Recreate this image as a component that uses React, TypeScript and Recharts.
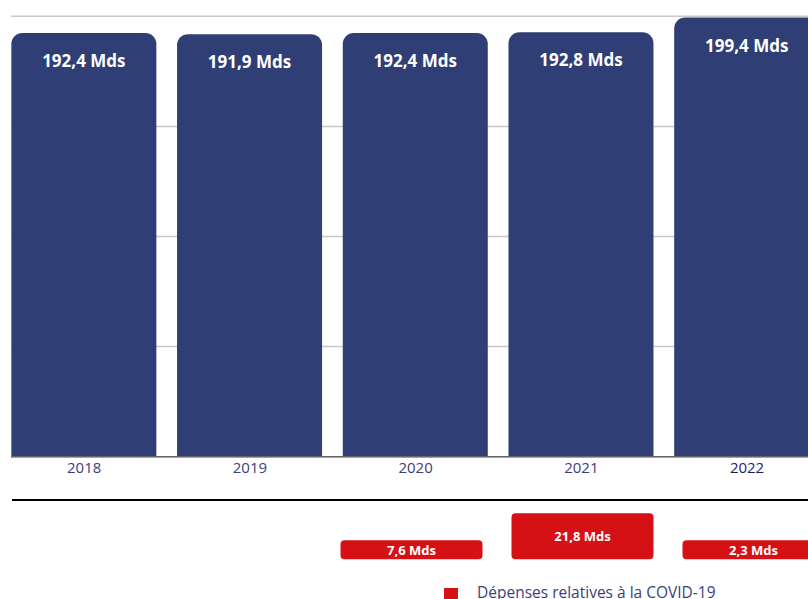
import React from 'react';
import { BarChart, Bar, XAxis, YAxis, CartesianGrid, LabelList } from 'recharts';

const years = ['2018', '2019', '2020', '2021', '2022'];
const totalValues = [192.4, 191.9, 192.4, 192.8, 199.4];
const covidValues: (number | null)[] = [null, null, 7.6, 21.8, 2.3];
const yTicks = [0, 50, 100, 150, 200];

const BLUE = '#2f3e74';
const RED = '#d51116';
const FONT = '"Open Sans", "DejaVu Sans", sans-serif';

const mainData = years.map((y, i) => ({ year: y, total: totalValues[i] }));
const covidData = years.map((y, i) => ({ year: y, covid: covidValues[i] }));

const fmt = (v: number) => `${String(v).replace('.', ',')} Mds`;

const TopLabel = (props: any) => {
  const { x, y, width, value } = props;
  if (value == null) return null;
  return (
    <text
      x={Number(x) + Number(width) / 2}
      y={Number(y) + 27.5}
      textAnchor="middle"
      dominantBaseline="central"
      fill="#ffffff"
      fontSize={17}
      fontWeight={700}
      fontFamily={FONT}
    >
      {fmt(value)}
    </text>
  );
};

const CovidLabel = (props: any) => {
  const { x, y, width, height, value } = props;
  if (value == null) return null;
  return (
    <text
      x={Number(x) + Number(width) / 2}
      y={Number(y) + Number(height) / 2}
      textAnchor="middle"
      dominantBaseline="central"
      fill="#ffffff"
      fontSize={13}
      fontWeight={700}
      fontFamily={FONT}
    >
      {fmt(value)}
    </text>
  );
};

const YearTick = (props: any) => {
  const { x, y, payload } = props;
  const last = payload.value === '2022';
  return (
    <text
      x={x}
      y={y}
      dy="0.71em"
      textAnchor="middle"
      fill={last ? '#1f1c62' : '#3c4079'}
      fontSize={15}
      fontWeight={last ? 500 : 400}
      fontFamily={FONT}
    >
      {payload.value}
    </text>
  );
};

export default function App() {
  return (
    <div
      style={{
        position: 'absolute',
        left: 0,
        top: 0,
        width: 808,
        height: 599,
        overflow: 'hidden',
        background: '#ffffff',
      }}
    >
      <div style={{ position: 'absolute', left: 0, top: 0 }}>
        <BarChart
          width={840}
          height={490}
          data={mainData}
          margin={{ top: 16.3, left: 11, right: 10.1, bottom: 3.3 }}
          barCategoryGap={0}
        >
          <CartesianGrid vertical={false} stroke="#c8c8c8" strokeWidth={1.5} />
          <YAxis hide domain={[0, 200]} ticks={yTicks} />
          <XAxis
            dataKey="year"
            height={30}
            padding={{ left: -9.65, right: 0 }}
            tickLine={false}
            tickSize={6}
            tickMargin={0}
            axisLine={{ stroke: '#666666', strokeWidth: 1.5 }}
            tick={<YearTick />}
            interval={0}
          />
          <Bar
            dataKey="total"
            fill={BLUE}
            barSize={145}
            radius={[11, 11, 0, 0]}
            isAnimationActive={false}
          >
            <LabelList dataKey="total" content={<TopLabel />} />
          </Bar>
        </BarChart>
      </div>
      <div style={{ position: 'absolute', left: 0, top: 0 }}>
        <BarChart
          width={840}
          height={599}
          data={covidData}
          margin={{ top: 490, left: 12, right: 1.5, bottom: 39.7 }}
          barCategoryGap={0}
        >
          <YAxis hide domain={[0, 28]} />
          <XAxis
            dataKey="year"
            orientation="top"
            height={10}
            tick={false}
            tickLine={false}
            padding={{ left: -28.5, right: 0 }}
            axisLine={{ stroke: '#000000', strokeWidth: 2 }}
          />
          <Bar
            dataKey="covid"
            fill={RED}
            barSize={142}
            radius={4}
            minPointSize={(v: any) => (v == null ? 0 : 19)}
            isAnimationActive={false}
          >
            <LabelList dataKey="covid" content={<CovidLabel />} />
          </Bar>
        </BarChart>
      </div>
      <div
        style={{
          position: 'absolute',
          left: 444,
          top: 582,
          display: 'flex',
          alignItems: 'center',
          fontFamily: FONT,
          fontSize: 15.5,
          color: '#3c4079',
          whiteSpace: 'nowrap',
        }}
      >
        <span
          style={{
            display: 'inline-block',
            width: 14,
            height: 14,
            background: RED,
            marginRight: 19,
            marginTop: 6,
          }}
        />
        <span style={{ lineHeight: '20px' }}>Dépenses relatives à la COVID-19</span>
      </div>
    </div>
  );
}
